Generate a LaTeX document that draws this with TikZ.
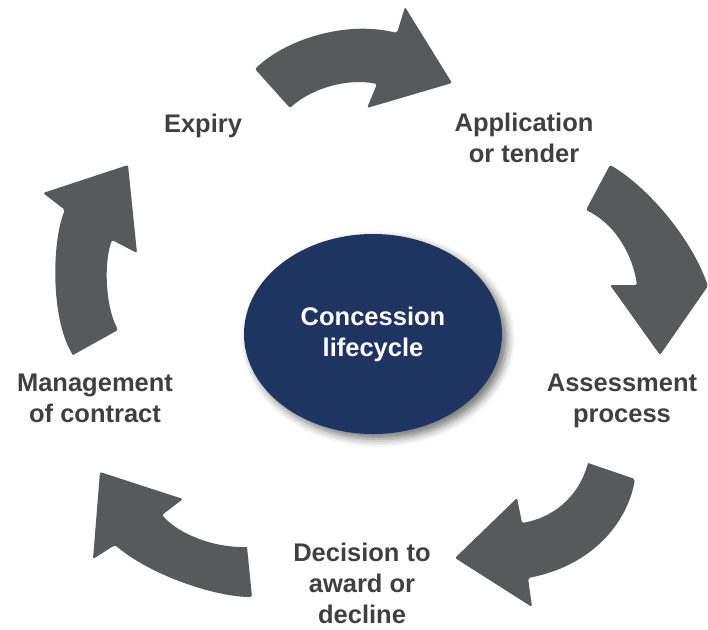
\documentclass[tikz,border=0pt]{standalone}
\usepackage{fontspec}
\setmainfont{Liberation Sans}
\usetikzlibrary{shapes.geometric,shadows.blur}
\definecolor{arrowgray}{HTML}{58595B}
\definecolor{labelgray}{HTML}{404040}
\definecolor{navy}{HTML}{1F3461}
\tikzset{
  cyclearrow/.style={fill=arrowgray, draw=none, rounded corners=2pt},
  steplabel/.style={text=labelgray, align=center, inner sep=0pt,
    font=\fontsize{25.5}{31}\selectfont\bfseries},
  hub/.style={ellipse, fill=navy, text=white, align=center, inner sep=0pt,
    minimum width=258pt, minimum height=200pt,
    font=\fontsize{25.5}{31}\selectfont\bfseries,
    blur shadow={shadow xshift=5pt, shadow yshift=-5pt, shadow blur radius=8pt, shadow opacity=55}}
}
\begin{document}
\begin{tikzpicture}[x=1pt, y=-1pt]
\path[use as bounding box] (0,0) rectangle (708,629);

% arrows
\fill[cyclearrow] (255,69) .. controls (285,40) and (345,20) .. (397,33)
  -- (405,7) -- (452,83) -- (367,108) -- (377,84)
  .. controls (348,78) and (312,88) .. (290,108) -- cycle;
\fill[cyclearrow] (610,165) .. controls (645,185) and (690,235) .. (708,286)
  -- (660,355) -- (610,285) -- (637,285)
  .. controls (633,258) and (618,226) .. (586,210) -- cycle;
\fill[cyclearrow] (588,463) -- (635,479) .. controls (628,520) and (595,565) .. (528,578)
  -- (532,607) -- (455,558) -- (517,498) -- (522,523)
  .. controls (550,518) and (578,500) .. (588,463);
\fill[cyclearrow] (247,547) -- (252,597) .. controls (215,597) and (150,575) .. (115,545)
  -- (93,559) -- (100,472) -- (183,499) -- (162,515)
  .. controls (180,535) and (215,548) .. (247,547);
\fill[cyclearrow] (73,355) -- (118,330) .. controls (105,305) and (104,262) .. (112,240)
  -- (137,253) -- (128,165) -- (43,193) -- (65,210)
  .. controls (52,240) and (50,320) .. (73,355);

% centre
\node[hub] (hub) at (373,334) {Concession\\lifecycle};

% labels
\node[steplabel] (expiry) at (203,125.5) {Expiry};
\node[steplabel] (application) at (524,138) {Application\\or tender};
\node[steplabel] (assessment) at (622,401) {Assessment\\process};
\node[steplabel] (decision) at (362,583.7) {Decision to\\award or\\decline};
\node[steplabel] (management) at (95,398) {Management\\of contract};
\end{tikzpicture}
\end{document}
